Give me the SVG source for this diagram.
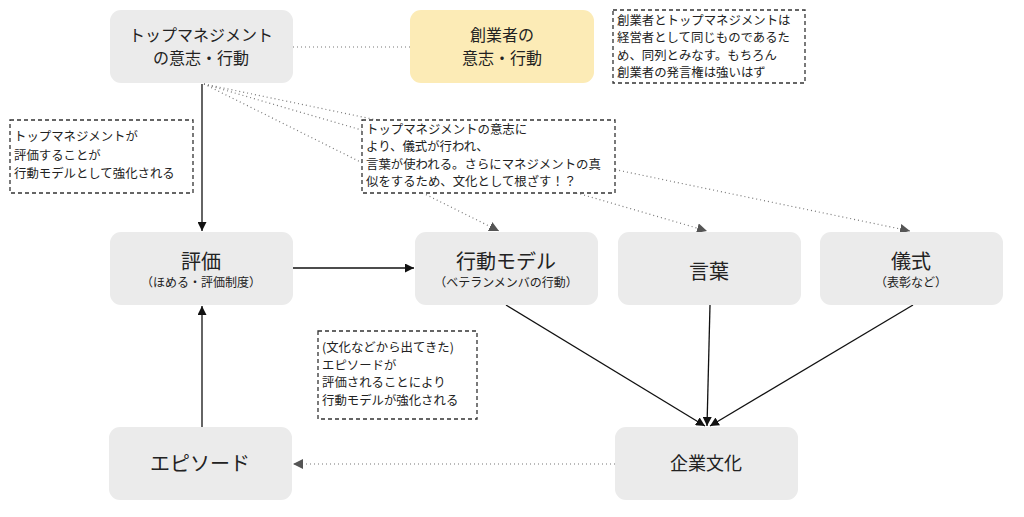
<svg xmlns="http://www.w3.org/2000/svg" width="1024" height="517" viewBox="0 0 1024 517">
<defs>
<style>
text{font-family:"Noto Sans CJK JP","Liberation Sans",sans-serif;fill:#222}
.node{fill:#ebebeb}
.t{font-size:16px;text-anchor:middle}
.big{font-size:20px;text-anchor:middle}
.sub{font-size:12px;text-anchor:middle}
.note{fill:#fff;stroke:#333;stroke-width:1.3;stroke-dasharray:4 3}
.nt{font-size:12.4px}
.solid{stroke:#111;stroke-width:1.3;fill:none}
.dot{stroke:#777;stroke-width:1.2;stroke-dasharray:1 3;fill:none}
</style>
<marker id="ah" viewBox="0 0 10 10" refX="10" refY="5" markerWidth="9" markerHeight="9" markerUnits="userSpaceOnUse" orient="auto"><path d="M0,0 L10,5 L0,10 z" fill="#111"/></marker>
<marker id="ahg" viewBox="0 0 10 10" refX="10" refY="5" markerWidth="10" markerHeight="10" markerUnits="userSpaceOnUse" orient="auto"><path d="M0,0 L10,5 L0,10 z" fill="#555"/></marker>
</defs>
<g id="connectors">
<line class="dot" x1="293" y1="47" x2="410" y2="47"/>
<line class="dot" x1="204" y1="84" x2="499" y2="231" marker-end="url(#ahg)"/>
<line class="dot" x1="204" y1="84" x2="707" y2="231" marker-end="url(#ahg)"/>
<line class="dot" x1="204" y1="84" x2="910" y2="231" marker-end="url(#ahg)"/>
<line class="solid" x1="202" y1="84" x2="202" y2="231" marker-end="url(#ah)"/>
<line class="solid" x1="202" y1="427" x2="202" y2="306" marker-end="url(#ah)"/>
<line class="solid" x1="293" y1="268" x2="414" y2="268" marker-end="url(#ah)"/>
<line class="solid" x1="506" y1="305" x2="705" y2="426" marker-end="url(#ah)"/>
<line class="solid" x1="710" y1="305" x2="707" y2="426" marker-end="url(#ah)"/>
<line class="solid" x1="913" y1="305" x2="710" y2="426" marker-end="url(#ah)"/>
<line class="dot" x1="615" y1="464" x2="293" y2="464" marker-end="url(#ahg)"/>
</g>
<g id="top-mgmt"><rect class="node" x="110" y="10" width="183" height="73" rx="11"/><text class="t" x="201" y="41">トップマネジメント</text><text class="t" x="201" y="64">の意志・行動</text></g>
<g id="founder"><rect x="410" y="10" width="184" height="73" rx="11" fill="#fcebb6"/><text class="t" x="502" y="41">創業者の</text><text class="t" x="502" y="64">意志・行動</text></g>
<g id="note-founder"><rect class="note" x="613" y="10" width="192" height="73"/><text class="nt" x="617" y="25">創業者とトップマネジメントは</text><text class="nt" x="617" y="42">経営者として同じものであるた</text><text class="nt" x="617" y="60">め、同列とみなす。もちろん</text><text class="nt" x="617" y="77">創業者の発言権は強いはず</text></g>
<g id="note-eval"><rect class="note" x="10" y="120" width="183" height="73"/><text class="nt" x="14" y="141">トップマネジメントが</text><text class="nt" x="14" y="160">評価することが</text><text class="nt" x="14" y="178">行動モデルとして強化される</text></g>
<g id="note-center"><rect class="note" x="362" y="120" width="253" height="73"/><text class="nt" x="366" y="134">トップマネジメントの意志に</text><text class="nt" x="366" y="151">より、儀式が行われ、</text><text class="nt" x="366" y="169">言葉が使われる。さらにマネジメントの真</text><text class="nt" x="366" y="186">似をするため、文化として根ざす！？</text></g>
<g id="eval"><rect class="node" x="110" y="232" width="183" height="73" rx="11"/><text class="big" x="201" y="269">評価</text><text class="sub" x="201" y="287">（ほめる・評価制度）</text></g>
<g id="model"><rect class="node" x="415" y="232" width="183" height="73" rx="11"/><text class="big" x="506" y="269">行動モデル</text><text class="sub" x="506" y="287">（ベテランメンバの行動）</text></g>
<g id="words"><rect class="node" x="618" y="232" width="183" height="73" rx="11"/><text class="big" x="709" y="279">言葉</text></g>
<g id="ritual"><rect class="node" x="820" y="232" width="183" height="73" rx="11"/><text class="big" x="911" y="269">儀式</text><text class="sub" x="911" y="287">（表彰など）</text></g>
<g id="note-episode"><rect class="note" x="318" y="331" width="159" height="88"/><text class="nt" x="322" y="352">(文化などから出てきた)</text><text class="nt" x="322" y="370">エピソードが</text><text class="nt" x="322" y="387">評価されることにより</text><text class="nt" x="322" y="405">行動モデルが強化される</text></g>
<g id="episode"><rect class="node" x="109" y="427" width="183" height="73" rx="11"/><text class="big" x="200" y="471">エピソード</text></g>
<g id="culture"><rect class="node" x="615" y="427" width="183" height="73" rx="11"/><text class="t" x="706" y="470" style="font-size:18px">企業文化</text></g>
</svg>
